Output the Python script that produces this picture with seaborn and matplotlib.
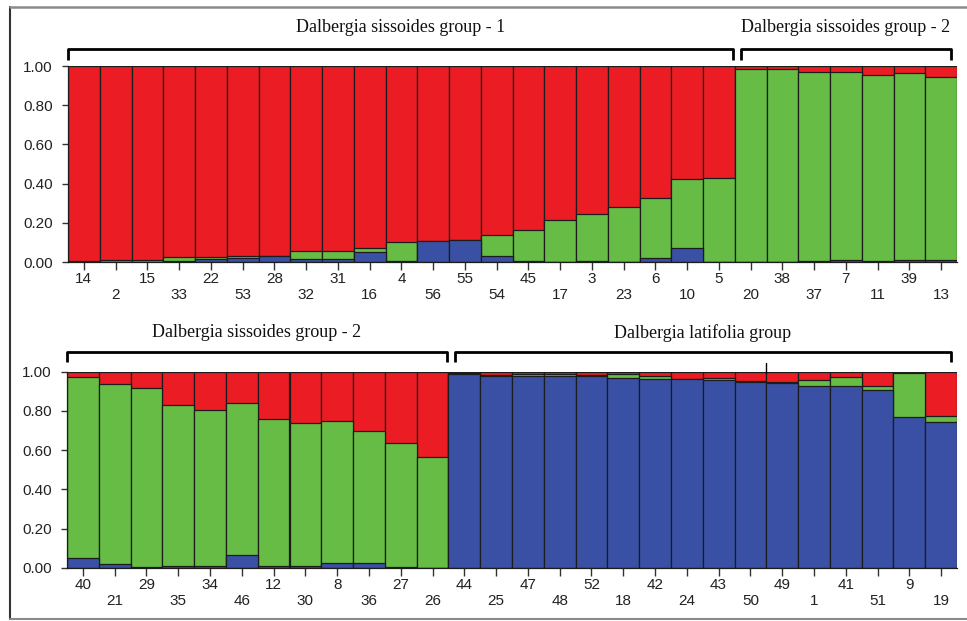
import matplotlib
matplotlib.use("Agg")
import matplotlib.pyplot as plt
import matplotlib.transforms as mtransforms
from matplotlib.lines import Line2D
import seaborn as sns
import pandas as pd

# ---- data ----
top_labels = ["14", "2", "15", "33", "22", "53", "28", "32", "31", "16", "4", "56", "55", "54",
              "45", "17", "3", "23", "6", "10", "5", "20", "38", "37", "7", "11", "39", "13"]
top_blue = [0.0, 0.0, 0.0, 0.005, 0.015, 0.02, 0.03, 0.014, 0.017, 0.05, 0.004, 0.109, 0.114, 0.031,
            0.005, 0.0, 0.003, 0.0, 0.019, 0.073, 0.0, 0.0, 0.0, 0.004, 0.008, 0.004, 0.008, 0.01]
top_green = [0.004, 0.012, 0.012, 0.021, 0.012, 0.012, 0.003, 0.04, 0.037, 0.023, 0.1, 0.0, 0.0, 0.107,
             0.159, 0.212, 0.244, 0.283, 0.305, 0.35, 0.427, 0.986, 0.985, 0.965, 0.961, 0.95, 0.954, 0.932]

bot_labels = ["40", "21", "29", "35", "34", "46", "12", "30", "8", "36", "27", "26", "44", "25",
              "47", "48", "52", "18", "42", "24", "43", "50", "49", "1", "41", "51", "9", "19"]
bot_blue = [0.048, 0.017, 0.003, 0.008, 0.008, 0.066, 0.008, 0.008, 0.024, 0.024, 0.002, 0.0, 0.99, 0.98,
            0.976, 0.976, 0.978, 0.968, 0.961, 0.961, 0.957, 0.949, 0.942, 0.927, 0.928, 0.908, 0.767, 0.744]
bot_green = [0.923, 0.918, 0.912, 0.82, 0.798, 0.776, 0.751, 0.728, 0.726, 0.676, 0.632, 0.563, 0.003, 0.005,
             0.012, 0.012, 0.004, 0.018, 0.017, 0.003, 0.01, 0.002, 0.005, 0.03, 0.046, 0.02, 0.225, 0.028]

top_groups = [("Dalbergia sissoides group - 1", -0.5, 20.45), ("Dalbergia sissoides group - 2", 20.7, 27.3)]
bot_groups = [("Dalbergia sissoides group - 2", -0.5, 11.45), ("Dalbergia latifolia group", 11.72, 27.3)]

RED = "#EC1C24"
GREEN = "#67BC45"
BLUE = "#3A50A4"
EDGE = "#1c1c1c"

sns.set_style("white")
plt.rcParams["font.family"] = ["Liberation Sans", "DejaVu Sans"]

fig = plt.figure(figsize=(9.67, 6.21), dpi=100)
W, H = 967, 621


def px_axes(x0, x1, y_top, y_bot):
    return fig.add_axes([x0 / W, 1 - y_bot / H, (x1 - x0) / W, (y_bot - y_top) / H])


ax_top = px_axes(68, 957, 66, 262)
ax_bot = px_axes(67, 957, 371.7, 567.7)


def draw_panel(ax, labels, blue, green, groups, bracket_y, bracket_tick, text_y):
    df = pd.DataFrame({"label": labels, "blue": blue, "green": green})
    df["bg"] = df["blue"] + df["green"]
    df["total"] = 1.0
    kw = dict(order=labels, ax=ax, width=1.0, edgecolor=EDGE, linewidth=0.9, errorbar=None,
              saturation=1)
    sns.barplot(data=df, x="label", y="total", color=RED, **kw)
    sns.barplot(data=df, x="label", y="bg", color=GREEN, **kw)
    sns.barplot(data=df, x="label", y="blue", color=BLUE, **kw)
    ax.set_xlim(-0.5, len(labels) - 0.5)
    ax.set_ylim(0, 1)
    ax.set_xlabel("")
    ax.set_ylabel("")
    ax.set_yticks([0, 0.2, 0.4, 0.6, 0.8, 1.0])
    ax.set_yticklabels(["0.00", "0.20", "0.40", "0.60", "0.80", "1.00"])
    ax.set_xticks(range(len(labels)))
    ax.set_xticklabels([l if i % 2 == 0 else "\n" + l for i, l in enumerate(labels)],
                       linespacing=1.15)
    ax.tick_params(axis="x", length=6, width=1.0, color="#333333", pad=1.5, labelsize=11,
                   labelcolor="#222222", bottom=True)
    ax.tick_params(axis="y", length=4.5, width=1.0, color="#333333", pad=6.5, labelsize=11,
                   labelcolor="#222222", left=True)
    for s in ["top", "right"]:
        ax.spines[s].set_visible(False)
    ax.spines["left"].set_color(EDGE)
    ax.spines["bottom"].set_color(EDGE)
    ax.spines["left"].set_linewidth(0.9)
    ax.spines["bottom"].set_linewidth(0.9)

    trans = mtransforms.blended_transform_factory(ax.transData, ax.transAxes)
    for name, x0, x1 in groups:
        ln = Line2D([x0, x0, x1, x1], [bracket_tick, bracket_y, bracket_y, bracket_tick],
                    transform=trans, color="black", lw=2.0, clip_on=False,
                    solid_joinstyle="round", solid_capstyle="butt")
        ax.add_line(ln)
        ax.text((x0 + x1) / 2, text_y, name, transform=trans, ha="center", va="center",
                fontsize=13, family=["Liberation Serif", "DejaVu Serif"], color="#111111",
                clip_on=False)


draw_panel(ax_top, top_labels, top_blue, top_green, top_groups, 1.087, 1.031, 1.197)
draw_panel(ax_bot, bot_labels, bot_blue, bot_green, bot_groups, 1.10, 1.05, 1.198)

# small vertical marker seen in the lower panel
trans_b = mtransforms.blended_transform_factory(ax_bot.transData, ax_bot.transAxes)
ax_bot.add_line(Line2D([21.5, 21.5], [0.995, 1.045], transform=trans_b, color="black",
                       lw=1.0, clip_on=False))

# outer frame
fig.add_artist(Line2D([10 / W, 10 / W], [1 - 7 / H, 1 - 619 / H], transform=fig.transFigure,
                      color="#333333", lw=1.5))
fig.add_artist(Line2D([10 / W, 1.0], [1 - 7 / H, 1 - 7 / H], transform=fig.transFigure,
                      color="#8a8a8a", lw=1.8))
fig.add_artist(Line2D([10 / W, 1.0], [1 - 619 / H, 1 - 619 / H], transform=fig.transFigure,
                      color="#8a8a8a", lw=1.5))

fig.savefig("out.png", dpi=100)
